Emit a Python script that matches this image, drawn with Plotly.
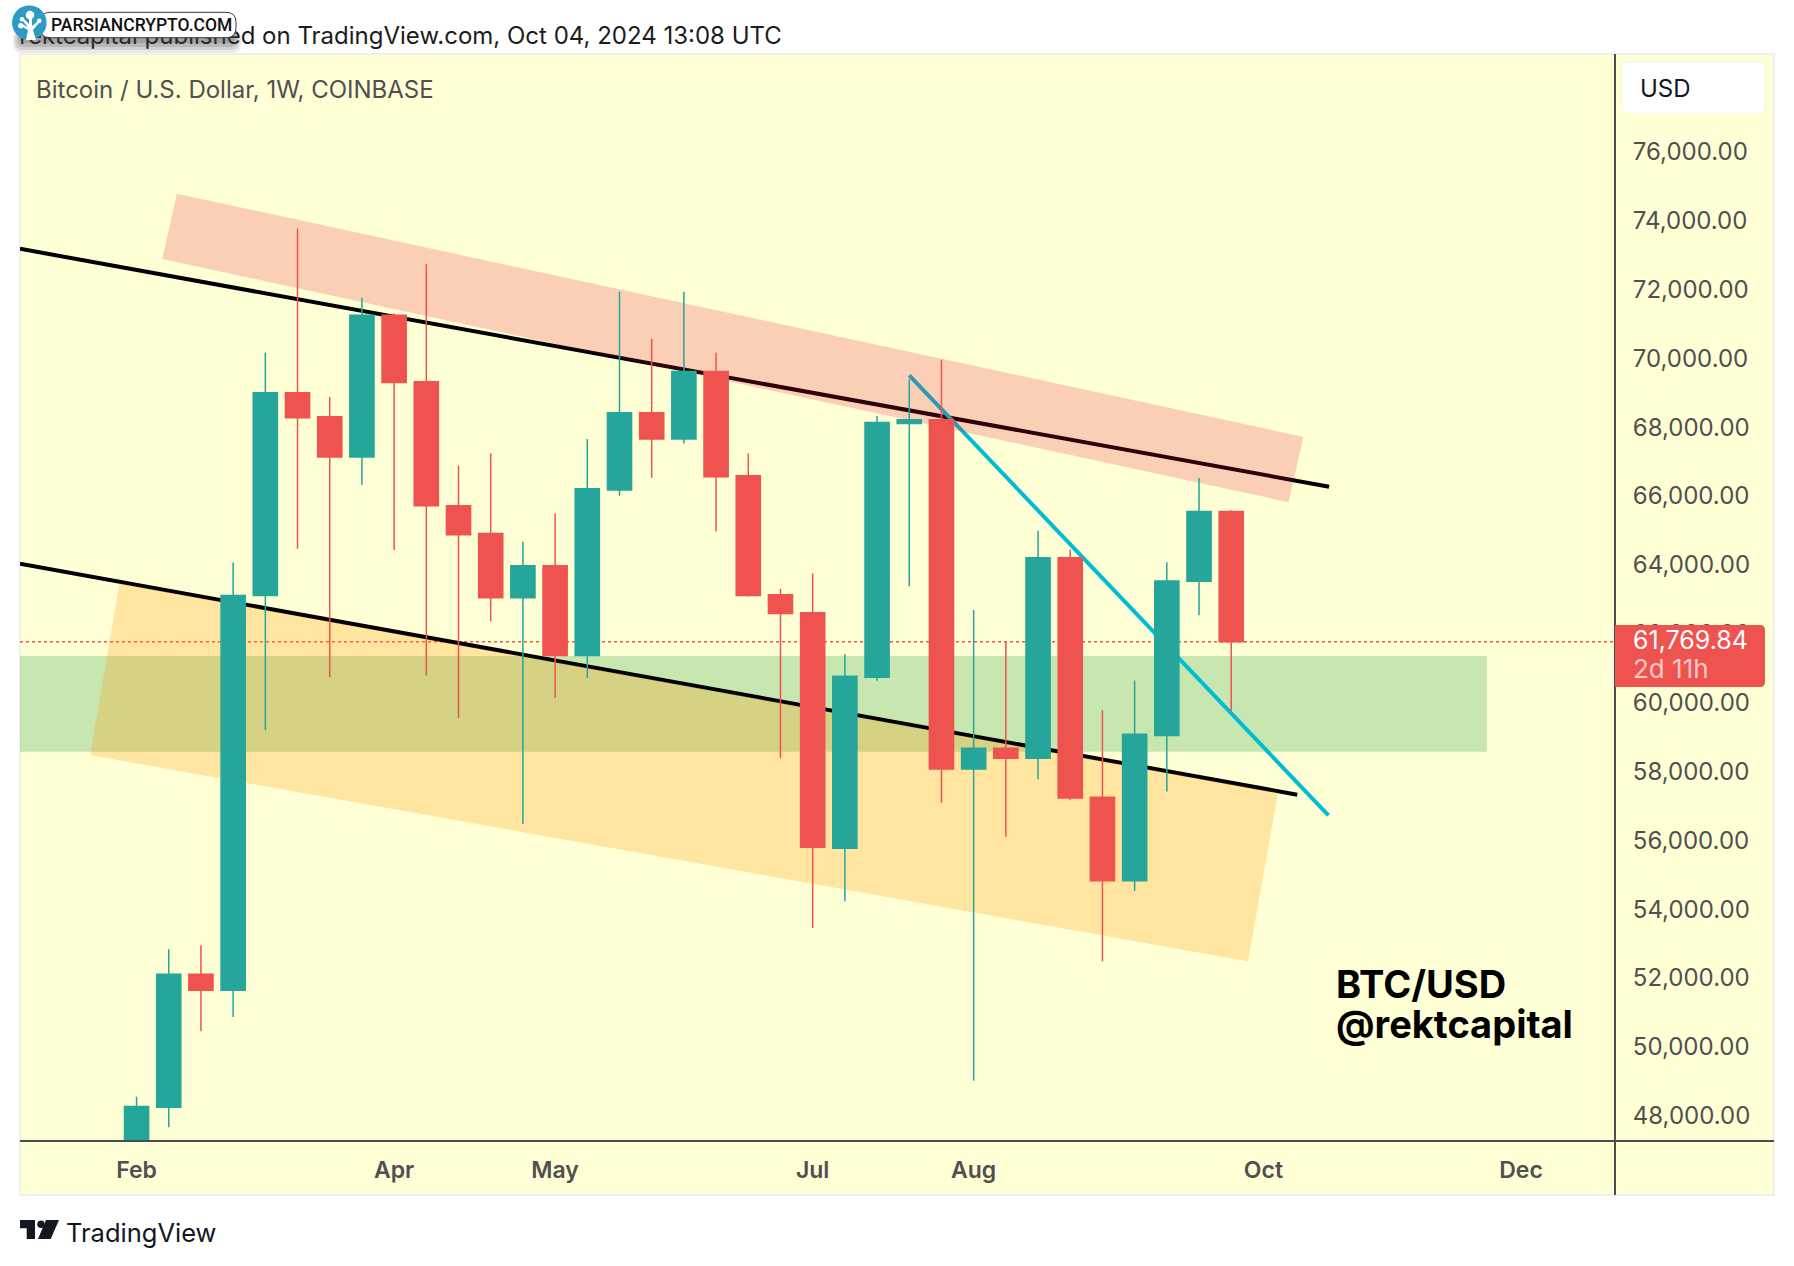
import pandas as pd
import plotly.graph_objects as go

# weekly candles, week 0 = 5 Feb 2024
opens = [42580, 48249, 52112, 51650, 63107, 68997, 68298, 67136, 71248, 69317, 65714, 64908,
         63048, 63972, 61367, 66176, 68416, 67658, 69613, 66591, 63131, 62610, 55774, 60739,
         68108, 68214, 58072, 58677, 58381, 64209, 57255, 54826, 59044, 63522, 65548]
highs = [48557, 52835, 52953, 64067, 70158, 73772, 68878, 71758, 71300, 72729, 66875, 67231,
         64671, 65489, 67657, 71935, 70561, 71935, 70158, 67231, 63309, 63747, 61402, 68333,
         69388, 69957, 62692, 61770, 64991, 64446, 59779, 60644, 64079, 66520, 65583]
lows = [42300, 47668, 50453, 50868, 59198, 64470, 60739, 66330, 64434, 60786, 59554, 62360,
        56473, 60134, 60715, 66010, 66532, 67527, 64968, 63072, 58381, 53451, 54233, 60632,
        63380, 57089, 49019, 56105, 57776, 57172, 52491, 54529, 57421, 62538, 59755]
closes = [48272, 52112, 51650, 63107, 68997, 68274, 67136, 71248, 69293, 65714, 64873, 63048,
          63972, 61367, 66212, 68416, 67658, 69613, 66556, 63107, 62586, 55797, 60762, 68132,
          68214, 58072, 58677, 58381, 64209, 57231, 54826, 59080, 63534, 65548, 61769.84]

y_ticks = list(range(48000, 78000, 2000))
x_tick_weeks = [0, 8, 13, 21, 26, 35, 43]
x_tick_labels = ["Feb", "Apr", "May", "Jul", "Aug", "Oct", "Dec"]
last_price = 61769.84

# drawings, as (week, price)
upper_line = [(-3.62, 73180), (37.04, 66271)]
lower_line = [(-3.62, 64031), (36.05, 57326)]
cyan_line = [(24, 69506), (37.02, 56722)]
pink_zone = [(1.25, 74779), (36.24, 67717), (35.78, 65821), (0.80, 72883)]
orange_zone = [(-0.53, 63463), (35.45, 57385), (34.52, 52491), (-1.44, 58475)]
green_zone = [(-4, 61355), (41.94, 61355), (41.94, 58570), (-4, 58570)]

BG = "#FFFFD6"
TEAL = "#26A69A"
RED = "#EF5350"
GREY = "#505050"
FONT = "Inter"

W, H = 1794, 1266
L, R, T, B = 20, 1615, 54, 1141


def week(i):
    return pd.Timestamp("2024-02-05") + pd.Timedelta(days=float(i) * 7)


def day(i):
    return week(i).strftime("%Y-%m-%d %H:%M:%S")


def zone_path(points):
    # shape paths want an underscore between date and time
    return "M" + " L".join(f"{day(w).replace(' ', '_')},{p}" for w, p in points) + " Z"


# page pixels to paper coordinates, for the chrome around the chart
def px(x):
    return (x - L) / (R - L)


def py(y):
    return (B - y) / (B - T)


def paper_path(points):
    return "M" + " L".join(f"{px(x)},{py(y)}" for x, y in points) + " Z"


def round_box(x0, y0, x1, y1, r):
    return (f"M{px(x0 + r)},{py(y0)} L{px(x1 - r)},{py(y0)} Q{px(x1)},{py(y0)} {px(x1)},{py(y0 + r)} "
            f"L{px(x1)},{py(y1 - r)} Q{px(x1)},{py(y1)} {px(x1 - r)},{py(y1)} "
            f"L{px(x0 + r)},{py(y1)} Q{px(x0)},{py(y1)} {px(x0)},{py(y1 - r)} "
            f"L{px(x0)},{py(y0 + r)} Q{px(x0)},{py(y0)} {px(x0 + r)},{py(y0)} Z")


def paper_shape(path, fill, layer="above", line=None):
    return dict(type="path", xref="paper", yref="paper", path=path, fillcolor=fill, layer=layer,
                line=line or dict(width=0))


def dot(cx, cy, r, fill):
    return dict(type="circle", xref="paper", yref="paper", layer="above", x0=px(cx - r), x1=px(cx + r),
                y0=py(cy + r), y1=py(cy - r), fillcolor=fill, line=dict(width=0))


def seg(points, color, width):
    return dict(type="line", xref="x", yref="y", layer="below",
                x0=day(points[0][0]), y0=points[0][1], x1=day(points[1][0]), y1=points[1][1],
                line=dict(color=color, width=width))


def zone(points, fill):
    return dict(type="path", xref="x", yref="y", layer="below", path=zone_path(points),
                fillcolor=fill, line=dict(width=0))


dates = [week(i) for i in range(len(opens))]

fig = go.Figure()
fig.add_trace(go.Candlestick(
    x=dates, open=opens, high=highs, low=lows, close=closes,
    increasing=dict(line=dict(color=TEAL, width=1.5), fillcolor=TEAL),
    decreasing=dict(line=dict(color=RED, width=1.5), fillcolor=RED),
    whiskerwidth=0, hoverinfo="skip",
))
# only there so the top axis gets drawn, its one tick label is the header line
fig.add_trace(go.Scatter(x=[week(8.2)], y=[last_price], xaxis="x2", mode="none", hoverinfo="skip"))

shapes = [
    # panel behind the plot and both axes
    dict(type="rect", xref="paper", yref="paper", layer="below", x0=px(20), x1=px(1774), y0=py(1195), y1=py(54),
         fillcolor=BG, line=dict(color="#EFEFEF", width=2)),
    zone(green_zone, "rgba(72,172,87,0.3)"),
    seg(upper_line, "#000000", 4),
    seg(lower_line, "#000000", 4),
    seg(cyan_line, "#00BCD4", 4),
    zone(orange_zone, "rgba(255,152,0,0.25)"),
    zone(pink_zone, "rgba(235,15,54,0.2)"),
    dict(type="line", xref="paper", yref="y", layer="below", x0=0, x1=1, y0=last_price, y1=last_price,
         line=dict(color=RED, width=1.5, dash="dot")),
    # axis rules
    dict(type="line", xref="paper", yref="paper", layer="above", x0=1, x1=1, y0=py(1195), y1=1,
         line=dict(color="#4C4C4C", width=2)),
    dict(type="line", xref="paper", yref="paper", layer="above", x0=0, x1=px(1774), y0=0, y1=0,
         line=dict(color="#4C4C4C", width=2)),
    # USD box and price tag
    paper_shape(round_box(1622, 62, 1765, 113, 6), "#FFFFFF", line=dict(color="#F4F4EE", width=1)),
    paper_shape(f"M{px(1615)},{py(625)} L{px(1760)},{py(625)} Q{px(1765)},{py(625)} {px(1765)},{py(630)} "
                f"L{px(1765)},{py(682)} Q{px(1765)},{py(687)} {px(1760)},{py(687)} L{px(1615)},{py(687)} Z", RED),
    # badge over the header line, soft shadow first
    paper_shape(round_box(13, 30, 241, 53, 9), "rgba(60,60,60,0.10)"),
    paper_shape(round_box(15, 30, 239, 50, 8), "rgba(60,60,60,0.14)"),
    paper_shape(round_box(17, 30, 237, 47, 7), "rgba(60,60,60,0.16)"),
    paper_shape(round_box(19, 30, 235, 43, 6), "rgba(60,60,60,0.18)"),
    paper_shape(round_box(40, 12.3, 236, 37.7, 10), "#FFFFFF", line=dict(color="#3A3A3A", width=1)),
    dot(29.3, 22.7, 17.3, "#2E9BC6"),
    paper_shape(paper_path([(26, 40), (28, 30), (21, 26), (22, 24), (28, 27), (22, 20), (24, 19), (29, 24),
                            (29, 17), (32, 17), (32, 26), (38, 21), (40, 22), (33, 30), (36, 40)]), "#FFFFFF"),
    dot(30, 15, 4.3, "#FFFFFF"),
    dot(22, 19.3, 2.3, "#FFFFFF"),
    dot(20.7, 25.7, 2.6, "#FFFFFF"),
    dot(39.3, 20.7, 2.2, "#FFFFFF"),
    # TradingView mark
    paper_shape(paper_path([(20, 1220), (35, 1220), (35, 1239), (26.7, 1239), (26.7, 1228.3), (20, 1228.3)]), "#131722"),
    dot(41, 1224.3, 3.7, "#131722"),
    paper_shape(paper_path([(46, 1220), (59, 1220), (50.7, 1239), (38, 1239)]), "#131722"),
]


def label(text, x, y, size, color="#1C1C1C", weight=None, anchor="left"):
    return dict(text=text, xref="paper", yref="paper", x=px(x), y=py(y), xanchor=anchor, yanchor="middle",
                showarrow=False, font=dict(family=FONT, size=size, color=color, weight=weight))


annotations = [
    label("Bitcoin / U.S. Dollar, 1W, COINBASE", 34, 90, 24, GREY),
    label("USD", 1638, 88, 24, "#131722"),
    label("61,769.84", 1631, 640, 25, "#FFFFFF"),
    label("2d 11h", 1631, 668, 26, "rgba(255,255,255,0.7)"),
    label("BTC/USD", 1334, 984, 38, "#000000", 700),
    label("@rektcapital", 1334, 1024, 38, "#000000", 700),
    label("TradingView", 64, 1232, 25.5, "#131722"),
    dict(text="PARSIANCRYPTO.COM", xref="paper", yref="paper", x=px(49), y=py(25), xanchor="left", yanchor="middle",
         showarrow=False, font=dict(family="Roboto", size=17.5, color="#111111", weight=500)),
]

fig.update_layout(
    width=W, height=H, autosize=False,
    margin=dict(l=L, r=W - R, t=T, b=H - B, pad=0),
    paper_bgcolor="#FFFFFF", plot_bgcolor="rgba(0,0,0,0)",
    showlegend=False, boxgap=0.25, boxgroupgap=0, hovermode=False,
    shapes=shapes, annotations=annotations,
    xaxis=dict(
        type="date", range=[day(-3.62), day(45.92)], rangeslider=dict(visible=False),
        tickvals=[week(i) for i in x_tick_weeks], ticktext=x_tick_labels, tickangle=0,
        showgrid=False, zeroline=False, showline=False, ticks="outside", ticklen=8, tickcolor="rgba(0,0,0,0)",
        tickfont=dict(family=FONT, size=23, color=GREY, weight=600),
    ),
    xaxis2=dict(
        type="date", overlaying="x", side="top", anchor="y", range=[day(-3.62), day(45.92)],
        tickvals=[week(8.2)], ticktext=["rektcapital published on TradingView.com, Oct 04, 2024 13:08 UTC"],
        tickangle=0, showgrid=False, zeroline=False, showline=False,
        ticks="", ticklabelstandoff=4,
        tickfont=dict(family=FONT, size=24, color="#1C1C1C"),
    ),
    yaxis=dict(
        side="right", range=[47269, 78836], tickvals=y_ticks, tickformat=",.2f",
        showgrid=False, zeroline=False, showline=False, ticks="outside", ticklen=12, tickcolor="rgba(0,0,0,0)",
        tickfont=dict(family=FONT, size=24, color=GREY),
    ),
)

fig.write_html("out.html", config=dict(displayModeBar=False), post_script="document.body.style.margin='0';")
